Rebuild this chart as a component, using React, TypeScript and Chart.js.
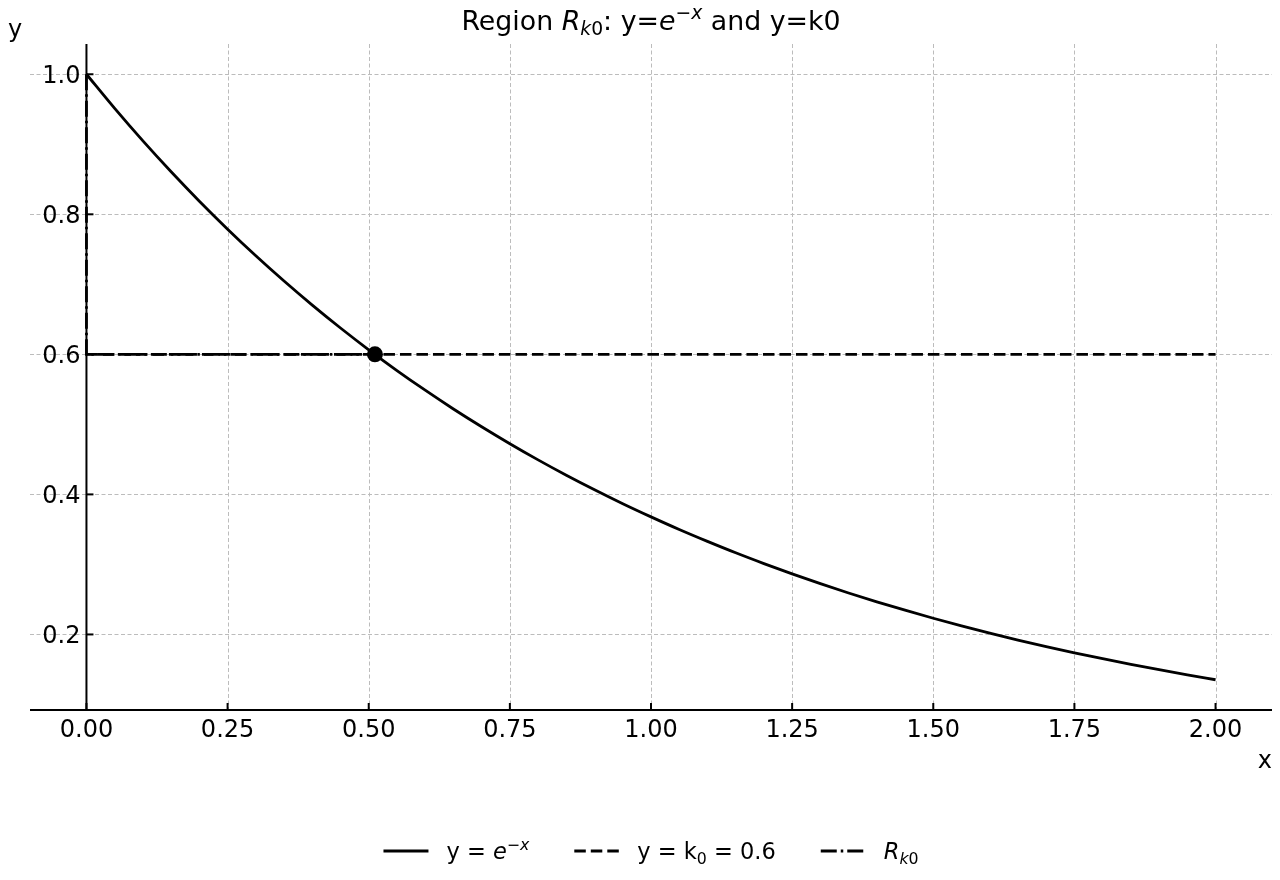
import { useEffect, useRef } from 'react';
import Chart from 'chart.js/auto';

// ---- data ----
const xTicks = [0, 0.25, 0.5, 0.75, 1.0, 1.25, 1.5, 1.75, 2.0];
const xTickLabels = ['0.00', '0.25', '0.50', '0.75', '1.00', '1.25', '1.50', '1.75', '2.00'];
const yTicks = [0.2, 0.4, 0.6, 0.8, 1.0];
const yTickLabels = ['0.2', '0.4', '0.6', '0.8', '1.0'];
const xRange = [-0.1, 2.1];
const yRange = [0.0921, 1.0432];

const curveX = [0, 0.05, 0.1, 0.15, 0.2, 0.25, 0.3, 0.35, 0.4, 0.45, 0.5, 0.55, 0.6, 0.65, 0.7, 0.75, 0.8, 0.85, 0.9, 0.95, 1.0,
  1.05, 1.1, 1.15, 1.2, 1.25, 1.3, 1.35, 1.4, 1.45, 1.5, 1.55, 1.6, 1.65, 1.7, 1.75, 1.8, 1.85, 1.9, 1.95, 2.0];
const curveY = [1.0, 0.9512, 0.9048, 0.8607, 0.8187, 0.7788, 0.7408, 0.7047, 0.6703, 0.6376, 0.6065, 0.5769, 0.5488, 0.5220, 0.4966,
  0.4724, 0.4493, 0.4274, 0.4066, 0.3867, 0.3679, 0.3499, 0.3329, 0.3166, 0.3012, 0.2865, 0.2725, 0.2592, 0.2466, 0.2346, 0.2231,
  0.2122, 0.2019, 0.1920, 0.1827, 0.1738, 0.1653, 0.1572, 0.1496, 0.1423, 0.1353];
const k0X = [0, 2.0];
const k0Y = [0.6, 0.6];
const regionX = [0, 0, 0.511];
const regionY = [1.0, 0.6, 0.6];
const pointX = [0.511];
const pointY = [0.6];

type Seg = { t: string; it?: boolean; sc?: 'sup' | 'sub' };
const FONT = '"DejaVu Sans", sans-serif';

function segFont(s: Seg, size: number) {
  const fs = s.sc ? size * 0.7 : size;
  return `${s.it ? 'italic ' : ''}${fs}px ${FONT}`;
}
function richWidth(ctx: CanvasRenderingContext2D, segs: Seg[], size: number) {
  let w = 0;
  for (const s of segs) { ctx.font = segFont(s, size); w += ctx.measureText(s.t).width; }
  return w;
}
function drawRich(ctx: CanvasRenderingContext2D, segs: Seg[], x: number, y: number, size: number, align: 'left' | 'center' | 'right') {
  const w = richWidth(ctx, segs, size);
  let cx = align === 'left' ? x : align === 'center' ? x - w / 2 : x - w;
  ctx.textAlign = 'left';
  ctx.textBaseline = 'alphabetic';
  for (const s of segs) {
    ctx.font = segFont(s, size);
    const dy = s.sc === 'sup' ? -size * 0.42 : s.sc === 'sub' ? size * 0.2 : 0;
    ctx.fillText(s.t, cx, y + dy);
    cx += ctx.measureText(s.t).width;
  }
  return w;
}

const titleSegs: Seg[] = [
  { t: 'Region ' }, { t: 'R', it: true }, { t: 'k', it: true, sc: 'sub' }, { t: '0', sc: 'sub' },
  { t: ': y=' }, { t: 'e', it: true }, { t: '\u2212', sc: 'sup' }, { t: 'x', it: true, sc: 'sup' }, { t: ' and y=k0' },
];
const legendItems: { segs: Seg[]; dash: number[] }[] = [
  { segs: [{ t: 'y = ' }, { t: 'e', it: true }, { t: '\u2212', sc: 'sup' }, { t: 'x', it: true, sc: 'sup' }], dash: [] },
  { segs: [{ t: 'y = k' }, { t: '0', sc: 'sub' }, { t: ' = 0.6' }], dash: [11.5, 5] },
  { segs: [{ t: 'R', it: true }, { t: 'k', it: true, sc: 'sub' }, { t: '0', sc: 'sub' }], dash: [16, 4, 2.5, 4] },
];

const decor = {
  id: 'decor',
  beforeDatasetsDraw(chart: any) {
    const { ctx, chartArea: a, scales } = chart;
    ctx.save();
    ctx.strokeStyle = '#bcbcbc';
    ctx.lineWidth = 1;
    ctx.setLineDash([4, 2.5]);
    for (const v of xTicks) {
      const px = Math.round(scales.x.getPixelForValue(v)) + 0.5;
      ctx.beginPath(); ctx.moveTo(px, a.top); ctx.lineTo(px, a.bottom); ctx.stroke();
    }
    for (const v of yTicks) {
      const py = Math.round(scales.y.getPixelForValue(v)) + 0.5;
      ctx.beginPath(); ctx.moveTo(a.left, py); ctx.lineTo(a.right, py); ctx.stroke();
    }
    ctx.restore();
  },
  afterDatasetsDraw(chart: any) {
    const { ctx, chartArea: a, scales } = chart;
    ctx.save();
    ctx.strokeStyle = '#000';
    ctx.fillStyle = '#000';
    ctx.setLineDash([]);
    ctx.lineWidth = 2;
    const x0 = scales.x.getPixelForValue(0);
    // spines
    ctx.beginPath(); ctx.moveTo(a.left, a.bottom); ctx.lineTo(a.right, a.bottom); ctx.stroke();
    ctx.beginPath(); ctx.moveTo(x0, a.top); ctx.lineTo(x0, a.bottom); ctx.stroke();
    // ticks
    const tickFs = 24;
    ctx.font = `${tickFs}px ${FONT}`;
    xTicks.forEach((v, i) => {
      const px = scales.x.getPixelForValue(v);
      ctx.beginPath(); ctx.moveTo(px, a.bottom); ctx.lineTo(px, a.bottom - 7); ctx.stroke();
      ctx.textAlign = 'center'; ctx.textBaseline = 'alphabetic';
      ctx.fillText(xTickLabels[i], px, a.bottom + 27);
    });
    yTicks.forEach((v, i) => {
      const py = scales.y.getPixelForValue(v);
      ctx.beginPath(); ctx.moveTo(x0, py); ctx.lineTo(x0 + 7, py); ctx.stroke();
      ctx.textAlign = 'right'; ctx.textBaseline = 'alphabetic';
      ctx.fillText(yTickLabels[i], x0 - 6, py + 9);
    });
    // axis labels
    ctx.font = `24px ${FONT}`;
    ctx.textAlign = 'left';
    ctx.fillText('y', 8, 37);
    ctx.textAlign = 'right';
    ctx.fillText('x', a.right, 768);
    // title
    const cx = (a.left + a.right) / 2;
    drawRich(ctx, titleSegs, cx, 30, 26.8, 'center');
    // legend
    const lfs = 22.5;
    const handle = 2 * lfs, pad = 0.8 * lfs, colsp = 2 * lfs;
    const widths = legendItems.map((it) => richWidth(ctx, it.segs, lfs));
    const total = widths.reduce((s, w) => s + handle + pad + w, 0) + colsp * (legendItems.length - 1);
    let lx = cx - total / 2;
    const ly = 851;
    legendItems.forEach((it, i) => {
      ctx.lineWidth = 2.8;
      ctx.setLineDash(it.dash);
      ctx.beginPath(); ctx.moveTo(lx, ly); ctx.lineTo(lx + handle, ly); ctx.stroke();
      ctx.setLineDash([]);
      drawRich(ctx, it.segs, lx + handle + pad, ly + 8, lfs, 'left');
      lx += handle + pad + widths[i] + colsp;
    });
    ctx.restore();
  },
};

export default function App() {
  const ref = useRef<HTMLCanvasElement>(null);
  useEffect(() => {
    document.body.style.margin = '0';
    const pts = (xs: number[], ys: number[]) => xs.map((x, i) => ({ x, y: ys[i] }));
    const chart = new Chart(ref.current!, {
      type: 'line',
      data: {
        datasets: [
          { data: pts(pointX, pointY), showLine: false, pointRadius: 8, pointBackgroundColor: '#000', pointBorderWidth: 0, order: 0 } as any,
          { data: pts(regionX, regionY), borderColor: '#000', borderWidth: 2.8, borderDash: [16, 4, 2.5, 4], pointRadius: 0, order: 1 },
          { data: pts(curveX, curveY), borderColor: '#000', borderWidth: 2.8, pointRadius: 0, cubicInterpolationMode: 'monotone', order: 2 },
          { data: pts(k0X, k0Y), borderColor: '#000', borderWidth: 2.8, borderDash: [11.5, 5], pointRadius: 0, order: 3 },
        ],
      },
      options: {
        responsive: false,
        devicePixelRatio: 1,
        animation: false,
        events: [],
        layout: { padding: { left: 30, right: 5, top: 44, bottom: 170 } },
        plugins: { legend: { display: false }, title: { display: false }, tooltip: { enabled: false } },
        scales: {
          x: { type: 'linear', display: false, min: xRange[0], max: xRange[1] },
          y: { type: 'linear', display: false, min: yRange[0], max: yRange[1] },
        },
      },
      plugins: [decor],
    });
    return () => chart.destroy();
  }, []);
  return (
    <div style={{ width: 1280, height: 880 }}>
      <canvas ref={ref} width={1280} height={880} style={{ display: 'block' }} />
    </div>
  );
}
